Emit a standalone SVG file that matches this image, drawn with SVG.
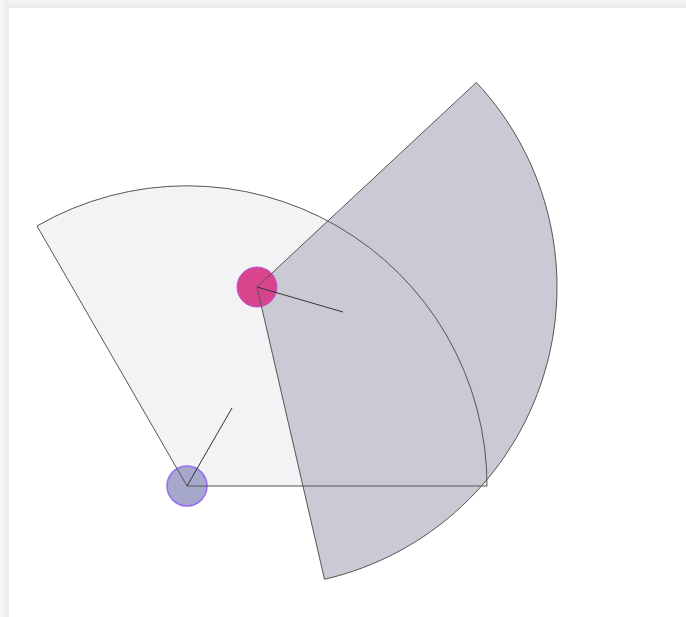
<svg xmlns="http://www.w3.org/2000/svg" width="686" height="617" viewBox="0 0 686 617">
<style>
.edge{fill:none;stroke:#555;stroke-width:1}
.ray{stroke:#333;stroke-width:1}
</style>
<defs>
<linearGradient id="gt" x1="0" y1="0" x2="0" y2="1"><stop offset="0" stop-color="#f6f6f6"/><stop offset="1" stop-color="#eaeaea"/></linearGradient>
<linearGradient id="gl" x1="0" y1="0" x2="1" y2="0"><stop offset="0" stop-color="#f8f8f8"/><stop offset="1" stop-color="#ececec"/></linearGradient>
</defs>
<rect width="686" height="617" fill="#ffffff"/>
<rect x="0" y="0" width="686" height="8" fill="url(#gt)"/>
<rect x="0" y="0" width="9" height="617" fill="url(#gl)"/>
<g id="fills">
<path d="M187,486 L487,486 A300,300 0 0,0 37,226 Z" fill="#f3f2f4"/>
<path d="M257,287 L476.4,82.4 A300,300 0 0,1 324.5,579.3 Z" fill="#cbcad4"/>
</g>
<g id="blue-node"><circle cx="187" cy="486" r="20" fill="#a5a7cb" stroke="#9a6cf2" stroke-width="1.5"/></g>
<g id="pink-node"><circle cx="257" cy="287" r="20" fill="#d8458c" stroke="#b458d8" stroke-width="1"/></g>
<g id="connectors">
<path class="edge" d="M187,486 L487,486 A300,300 0 0,0 37,226 Z"/>
<path class="edge" d="M257,287 L476.4,82.4 A300,300 0 0,1 324.5,579.3 Z"/>
<line class="ray" x1="187" y1="486" x2="232" y2="408" stroke="#777"/>
<line class="ray" x1="257" y1="287" x2="343" y2="312"/>
</g>
</svg>
